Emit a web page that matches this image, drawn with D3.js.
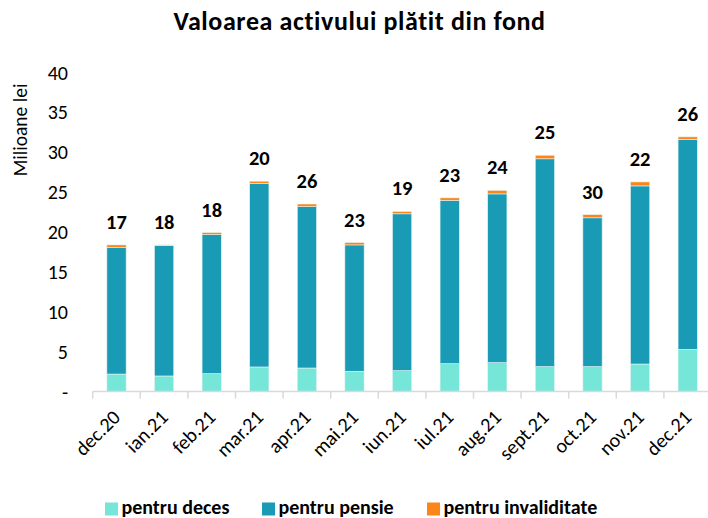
<!DOCTYPE html>
<html><head><meta charset="utf-8">
<script src="https://cdnjs.cloudflare.com/ajax/libs/d3/7.8.5/d3.min.js"></script>
<style>body{margin:0;background:#fff}svg{display:block;font-family:Calibri,Carlito,"Liberation Sans",Arial,sans-serif}</style>
</head><body><svg id="c" width="708" height="518"></svg>
<script>
const categories = ["dec.20","ian.21","feb.21","mar.21","apr.21","mai.21","iun.21","iul.21","aug.21","sept.21","oct.21","nov.21","dec.21"];
const deces = [2.2,1.96,2.25,3.09,2.96,2.55,2.63,3.5,3.63,3.13,3.13,3.46,5.3];
const pensie = [15.86,16.34,17.45,23.0,20.24,15.85,19.67,20.5,21.17,26.07,18.67,22.34,26.35];
const invaliditate = [0.34,0.1,0.25,0.3,0.33,0.3,0.3,0.3,0.45,0.45,0.4,0.5,0.3];
const topLabels = ["17","18","18","20","26","23","19","23","24","25","30","22","26"];
const yTicks = [0,5,10,15,20,25,30,35,40];
const seriesNames = ["pentru deces","pentru pensie","pentru invaliditate"];
const colors = ["#76e6d8","#1a9bb5","#fb8517"];

const svg = d3.select("#c");
const x = d3.scaleBand().domain(categories).range([92.7, 711.5]).paddingInner(0.595).paddingOuter(0.2975);
const y = d3.scaleLinear().domain([0,40]).range([391.6, 72.7]);

const rows = categories.map((c,i)=>({cat:c, deces:deces[i], pensie:pensie[i], inval:invaliditate[i], lab:topLabels[i]}));
const stack = d3.stack().keys(["deces","pensie","inval"])(rows);

svg.append("text").attr("x",359.5).attr("y",30).attr("text-anchor","middle")
  .attr("font-size",26).attr("letter-spacing",0.6).attr("font-weight","bold").attr("fill","#000").text("Valoarea activului plătit din fond");

// y axis labels
const yAxis = svg.append("g").attr("transform","translate(68,0)")
  .call(d3.axisLeft(y).tickValues(yTicks).tickSize(0).tickPadding(0).tickFormat(d=> d===0 ? "-" : d));
yAxis.select(".domain").remove();
yAxis.selectAll("text").attr("font-size",20).attr("fill","#000").attr("font-family","Calibri,Carlito,'Liberation Sans',sans-serif");

svg.append("text").attr("transform","translate(27,130) rotate(-90)").attr("text-anchor","middle")
  .attr("font-size",19.5).attr("fill","#000").text("Milioane lei");

// bars
svg.append("g").selectAll("g").data(stack).join("g").attr("fill",(d,i)=>colors[i])
  .selectAll("rect").data(d=>d).join("rect")
  .attr("x",d=>x(d.data.cat)).attr("width",x.bandwidth())
  .attr("y",d=>y(d[1])).attr("height",d=>y(d[0])-y(d[1]))
  .attr("stroke","#e6f4f4").attr("stroke-width",0.6);

// x axis
const step = x.step();
const xAxisG = svg.append("g").attr("transform",`translate(0,${y(0)})`);
xAxisG.append("line").attr("x1",92.7).attr("x2",711).attr("stroke","#d9d9d9").attr("stroke-width",1.5);
xAxisG.selectAll("line.tk").data(categories).join("line").attr("class","tk")
  .attr("x1",d=>x(d)-(step - x.bandwidth())/2).attr("x2",d=>x(d)-(step - x.bandwidth())/2)
  .attr("y1",0).attr("y2",7).attr("stroke","#d9d9d9").attr("stroke-width",1.5);
xAxisG.selectAll("text").data(categories).join("text")
  .attr("transform",d=>`translate(${x(d)+x.bandwidth()/2+5},${27}) rotate(-45)`)
  .attr("text-anchor","end").attr("font-size",20).attr("fill","#000").text(d=>d);

// top labels
svg.append("g").selectAll("text").data(rows).join("text")
  .attr("x",d=>x(d.cat)+x.bandwidth()/2).attr("y",d=>y(d.deces+d.pensie+d.inval)-16)
  .attr("text-anchor","middle").attr("font-size",20.5).attr("font-weight","bold").attr("fill","#000").text(d=>d.lab);

// legend
const legX = [105, 262, 427];
const leg = svg.append("g");
seriesNames.forEach((n,i)=>{
  leg.append("rect").attr("x",legX[i]).attr("y",502.5).attr("width",13).attr("height",13).attr("fill",colors[i]);
  leg.append("text").attr("x",legX[i]+16.5).attr("y",514).attr("font-size",20).attr("font-weight","bold").attr("fill","#000").text(n);
});
</script></body></html>
